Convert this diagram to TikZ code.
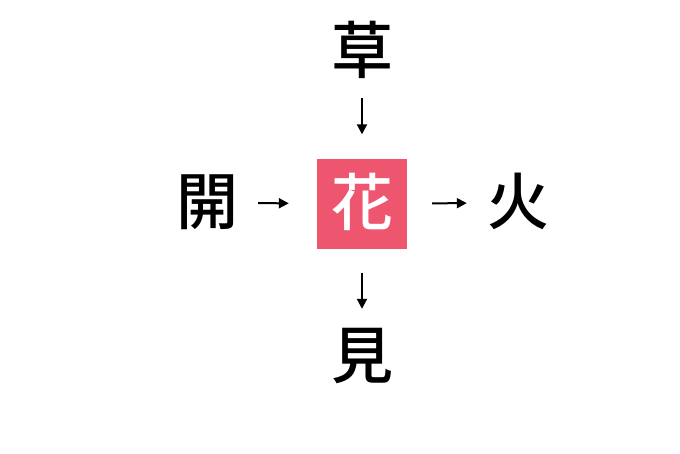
\documentclass[tikz,border=0pt]{standalone}
\usepackage{fontspec}
\newfontfamily\cjk{Noto Sans CJK JP Medium}
\usetikzlibrary{arrows.meta}
\definecolor{hana}{RGB}{238,86,112}
\tikzset{
  ch/.style={font=\cjk\fontsize{62}{62}\selectfont, inner sep=0pt, minimum size=60pt, text height=49pt, text depth=6pt},
  hub/.style={ch, fill=hana, text=white, minimum size=90pt},
  conn/.style={line width=2pt, -{Triangle[length=10pt,width=10pt]}}
}
\begin{document}
\begin{tikzpicture}[x=1pt,y=-1pt]
\useasboundingbox[fill=white] (0,0) rectangle (680,453);
\node[hub] (c) at (362,203.5) {花};
\node[ch] (t) at (362,52) {草};
\node[ch] (l) at (207,203) {開};
\node[ch] (r) at (518,203) {火};
\node[ch] (b) at (362,357) {見};
\draw[conn, shorten <=16pt, shorten >=24pt] (t.south) -- (c.north);
\draw[conn, shorten <=20pt, shorten >=28pt] (l.east) -- (c.west);
\draw[conn, shorten <=25pt, shorten >=20pt] (c.east) -- (r.west);
\draw[conn, shorten <=24pt, shorten >=18pt] (c.south) -- (b.north);
\end{tikzpicture}
\end{document}
